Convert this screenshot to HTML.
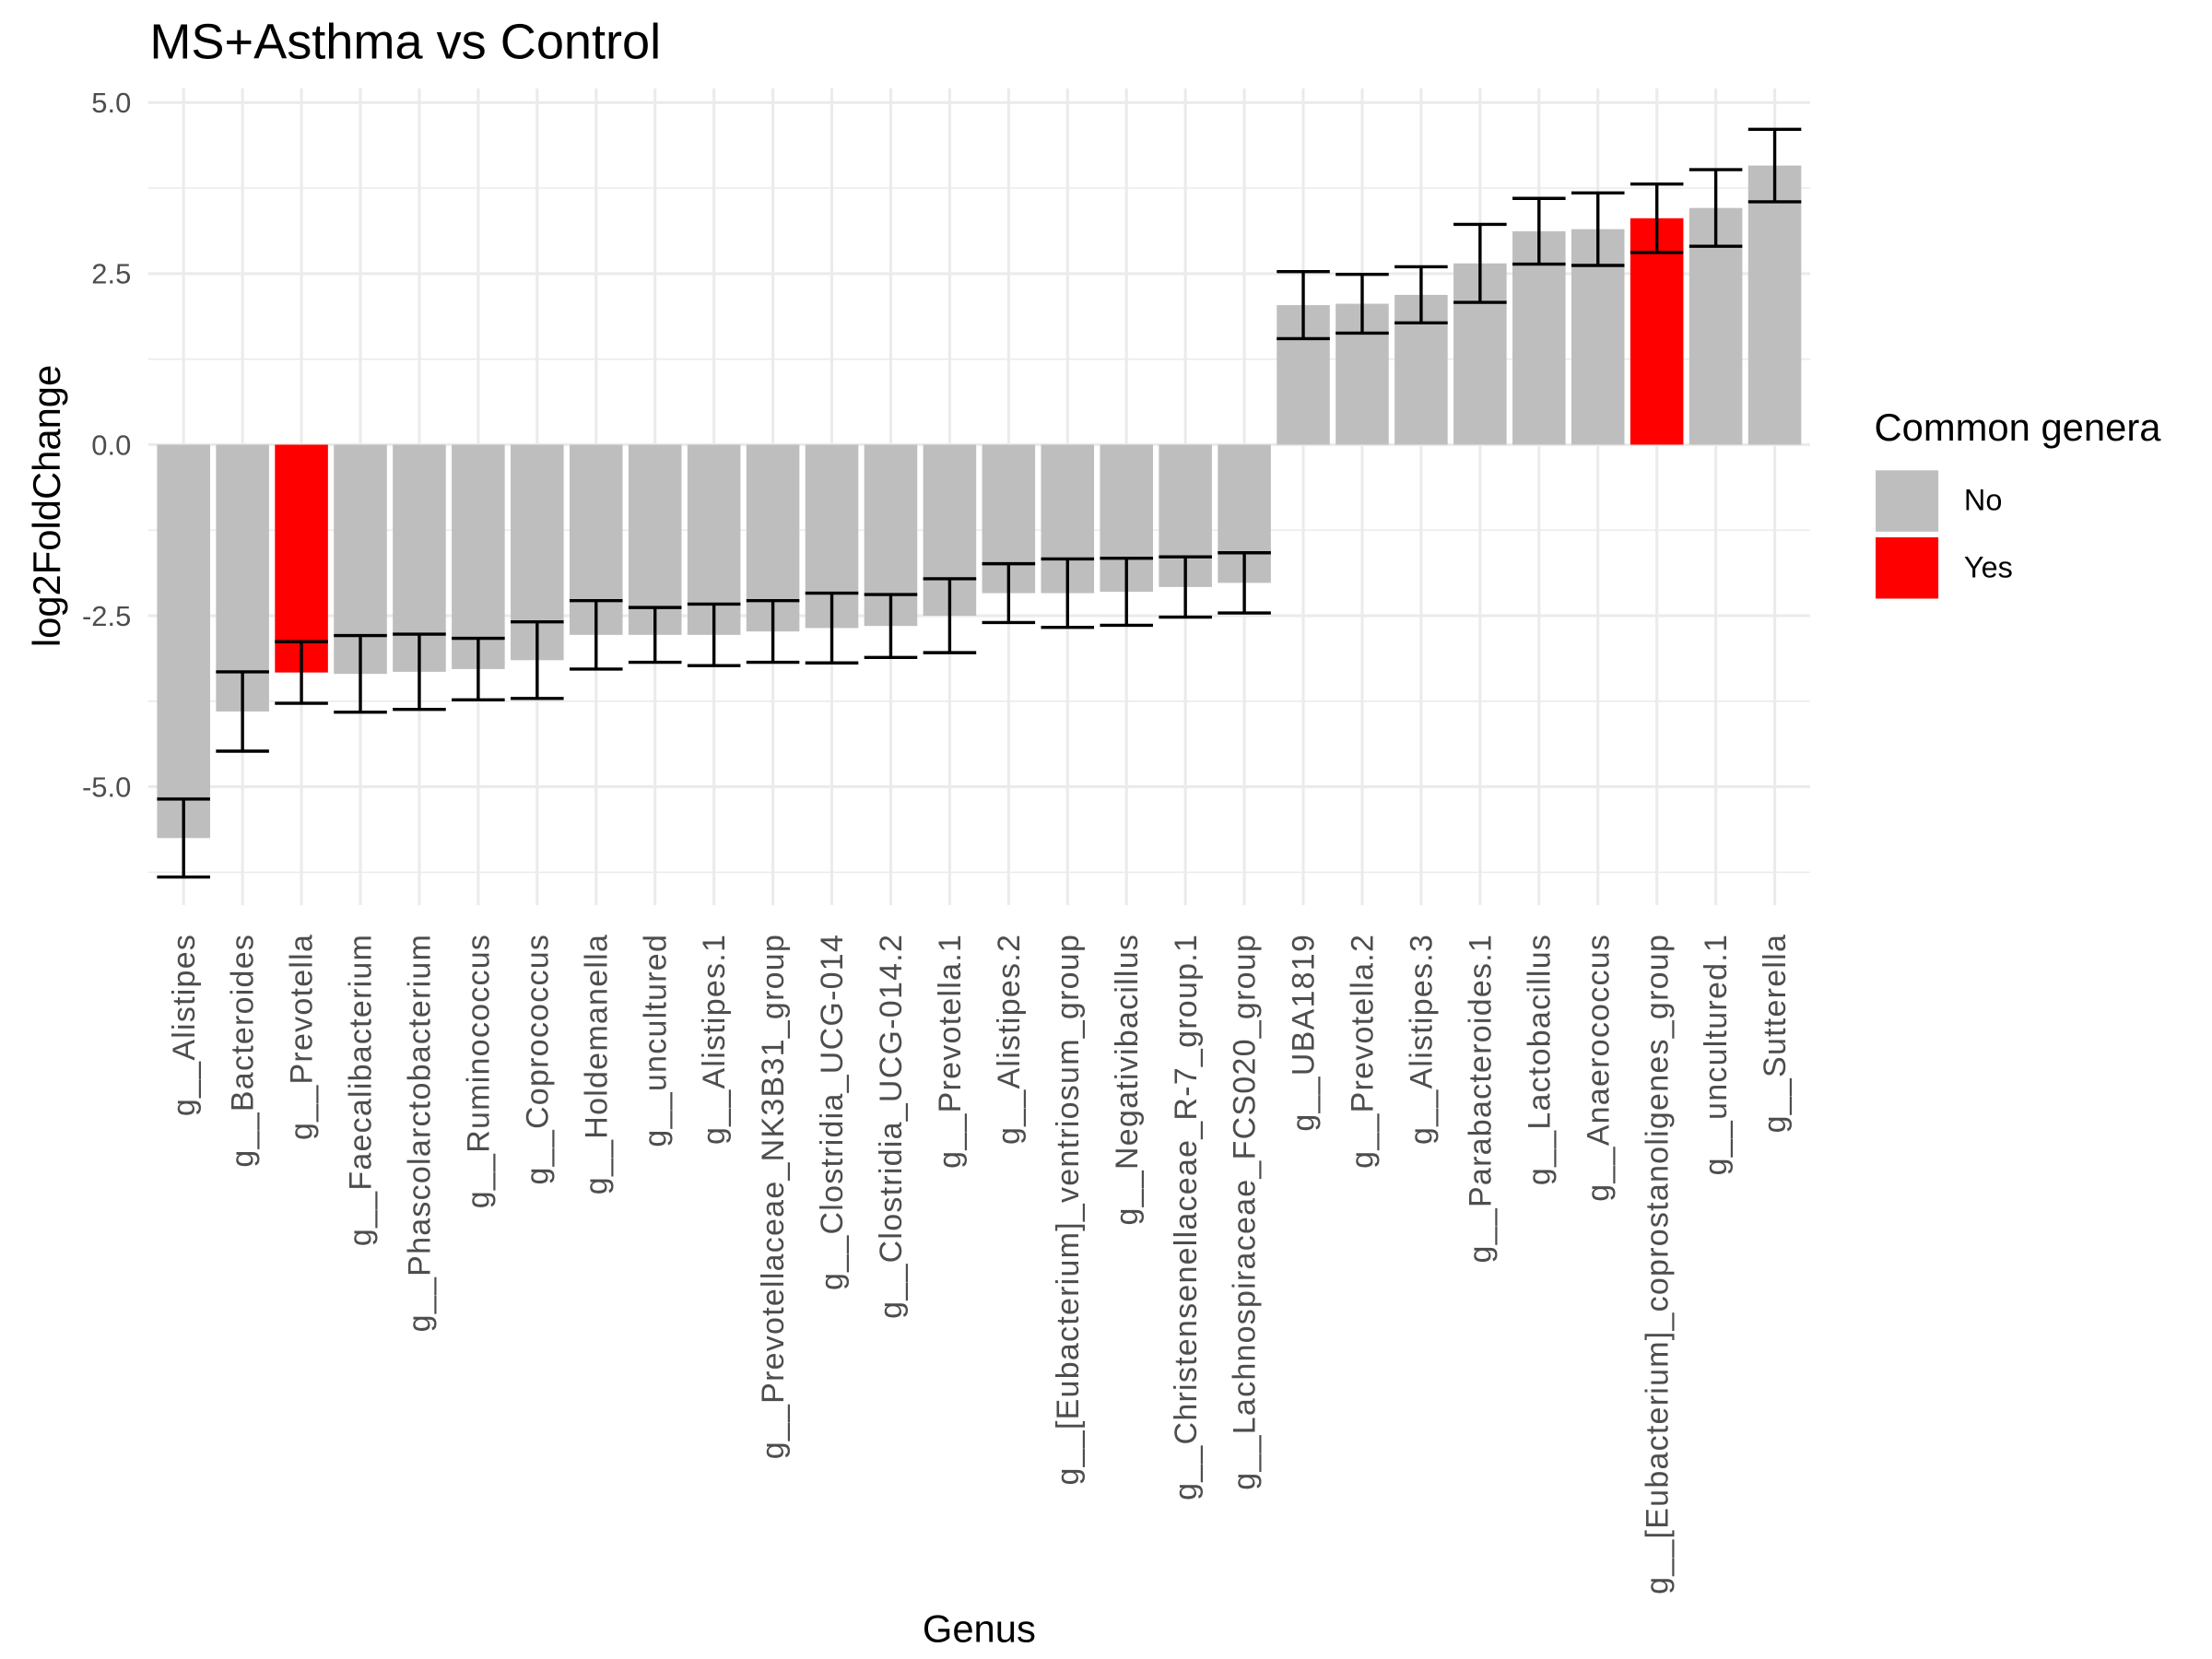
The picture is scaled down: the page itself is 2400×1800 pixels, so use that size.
<!DOCTYPE html>
<html><head><meta charset="utf-8"><style>
html,body{margin:0;padding:0;background:#fff;}
svg{display:block;font-family:"Liberation Sans",Arial,sans-serif;}
</style></head><body>
<svg id="chart" width="2400" height="1800" viewBox="0 0 1552 1164" xmlns="http://www.w3.org/2000/svg">
<rect width="1552" height="1164" fill="#fff"/>
<g id="grid"></g>
<g id="bars"></g>
<g id="errs"></g>
<g id="yticks"></g>
<g id="xticks"></g>
<text x="105" y="41" font-size="35" fill="#000">MS+Asthma vs Control</text>
<text transform="translate(42,355) rotate(-90)" text-anchor="middle" font-size="27" fill="#000">log2FoldChange</text>
<text x="687" y="1152" text-anchor="middle" font-size="27" fill="#000">Genus</text>
<g>
<text x="1315" y="309" font-size="27" fill="#000">Common genera</text>
<rect x="1316" y="330" width="44" height="43" fill="#bebebe"/>
<text x="1378" y="358" font-size="21" fill="#000">No</text>
<rect x="1316" y="377" width="44" height="43" fill="#ff0000"/>
<text x="1378" y="405" font-size="21" fill="#000">Yes</text>
</g>
</svg>
<script>
const categories=["g__Alistipes","g__Bacteroides","g__Prevotella","g__Faecalibacterium","g__Phascolarctobacterium","g__Ruminococcus","g__Coprococcus","g__Holdemanella","g__uncultured","g__Alistipes.1","g__Prevotellaceae_NK3B31_group","g__Clostridia_UCG-014","g__Clostridia_UCG-014.2","g__Prevotella.1","g__Alistipes.2","g__[Eubacterium]_ventriosum_group","g__Negativibacillus","g__Christensenellaceae_R-7_group.1","g__Lachnospiraceae_FCS020_group","g__UBA1819","g__Prevotella.2","g__Alistipes.3","g__Parabacteroides.1","g__Lactobacillus","g__Anaerococcus","g__[Eubacterium]_coprostanoligenes_group","g__uncultured.1","g__Sutterella"];
const values=[-5.75,-3.9,-3.33,-3.35,-3.32,-3.28,-3.15,-2.78,-2.78,-2.78,-2.73,-2.68,-2.65,-2.5,-2.17,-2.17,-2.15,-2.08,-2.02,2.04,2.06,2.19,2.65,3.12,3.15,3.31,3.46,4.08];
const errors=[0.57,0.58,0.45,0.56,0.55,0.45,0.56,0.5,0.4,0.45,0.45,0.51,0.46,0.54,0.43,0.5,0.49,0.44,0.44,0.49,0.43,0.41,0.57,0.48,0.53,0.5,0.56,0.53];
const common=["No","No","Yes","No","No","No","No","No","No","No","No","No","No","No","No","No","No","No","No","No","No","No","No","No","No","Yes","No","No"];
const yTicks=[-5,-2.5,0,2.5,5];
const yTickLabels=["-5.0","-2.5","0.0","2.5","5.0"];
const yMinor=[-6.25,-3.75,-1.25,1.25,3.75];

const NS="http://www.w3.org/2000/svg";
const PL=104,PR=1270,PT=62,PB=635;
const n=categories.length;
const step=(PR-PL)/(n+0.2);
function xs(i){return PL+step*(0.6+i);}
function ys(v){return 312-v*48;}
function mk(tag,attrs,parent){const e=document.createElementNS(NS,tag);for(const k in attrs)e.setAttribute(k,attrs[k]);parent.appendChild(e);return e;}
const grid=document.getElementById('grid'),bars=document.getElementById('bars'),errs=document.getElementById('errs'),yt=document.getElementById('yticks'),xt=document.getElementById('xticks');
yMinor.forEach(v=>{const l=mk('line',{x1:PL,x2:PR,y1:ys(v),y2:ys(v),stroke:'#ebebeb','stroke-width':1},grid);

});
yTicks.forEach((v,i)=>{const l=mk('line',{x1:PL,x2:PR,y1:ys(v),y2:ys(v),stroke:'#ebebeb','stroke-width':2},grid);


const t=mk('text',{x:92,y:ys(v)+7,'text-anchor':'end','font-size':20,fill:'#4d4d4d'},yt);t.textContent=yTickLabels[i];

});
categories.forEach((c,i)=>{const x=xs(i);
const g=mk('line',{x1:x,x2:x,y1:PT,y2:PB,stroke:'#ebebeb','stroke-width':2},grid);


const bw=step*0.9,v=values[i];
const r=mk('rect',{x:x-bw/2,y:Math.min(ys(0),ys(v)),width:bw,height:Math.abs(ys(v)-ys(0)),fill:common[i]==='Yes'?'#ff0000':'#bebebe'},bars);


const e=errors[i],hw=step*0.45,y1=ys(v+e),y2=ys(v-e);
const eg=mk('g',{stroke:'#000','stroke-width':2.2},errs);


mk('line',{x1:x,x2:x,y1:y1,y2:y2},eg);
mk('line',{x1:x-hw,x2:x+hw,y1:y1,y2:y1},eg);
mk('line',{x1:x-hw,x2:x+hw,y1:y2,y2:y2},eg);
const t=mk('text',{transform:`translate(${x+7.5},655) rotate(-90)`,'text-anchor':'end','font-size':22,'letter-spacing':0.8,fill:'#4d4d4d'},xt);t.textContent=c;


});
</script>
</body></html>
